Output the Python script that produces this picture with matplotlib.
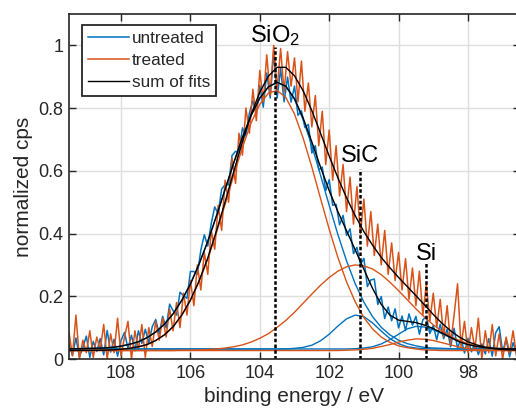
import matplotlib
matplotlib.use('Agg')
import matplotlib.pyplot as plt

# measured spectra (binding energy in eV, normalized counts)
energy = [109.5, 109.4, 109.3, 109.2, 109.1, 109.0, 108.9, 108.8, 108.7, 108.6,
          108.5, 108.4, 108.3, 108.2, 108.1, 108.0, 107.9, 107.8, 107.7, 107.6,
          107.5, 107.4, 107.3, 107.2, 107.1, 107.0, 106.9, 106.8, 106.7, 106.6,
          106.5, 106.4, 106.3, 106.2, 106.1, 106.0, 105.9, 105.8, 105.7, 105.6,
          105.5, 105.4, 105.3, 105.2, 105.1, 105.0, 104.9, 104.8, 104.7, 104.6,
          104.5, 104.4, 104.3, 104.2, 104.1, 104.0, 103.9, 103.8, 103.7, 103.6,
          103.5, 103.4, 103.3, 103.2, 103.1, 103.0, 102.9, 102.8, 102.7, 102.6,
          102.5, 102.4, 102.3, 102.2, 102.1, 102.0, 101.9, 101.8, 101.7, 101.6,
          101.5, 101.4, 101.3, 101.2, 101.1, 101.0, 100.9, 100.8, 100.7, 100.6,
          100.5, 100.4, 100.3, 100.2, 100.1, 100.0, 99.9, 99.8, 99.7, 99.6,
          99.5, 99.4, 99.3, 99.2, 99.1, 99.0, 98.9, 98.8, 98.7, 98.6,
          98.5, 98.4, 98.3, 98.2, 98.1, 98.0, 97.9, 97.8, 97.7, 97.6,
          97.5, 97.4, 97.3, 97.2, 97.1, 97.0, 96.9, 96.8, 96.7, 96.6]

untreated = [0.047, 0.012, 0.067, 0.007, 0.037, 0.073, 0.005, 0.056, 0.024, 0.065,
             0.013, 0.091, 0.022, 0.063, 0.009, 0.059, 0.085, 0.034, 0.076, 0.026,
             0.090, 0.050, 0.095, 0.051, 0.103, 0.126, 0.080, 0.136, 0.099, 0.175,
             0.154, 0.140, 0.213, 0.202, 0.193, 0.279, 0.279, 0.270, 0.347, 0.396,
             0.360, 0.432, 0.485, 0.463, 0.542, 0.556, 0.555, 0.649, 0.662, 0.660,
             0.737, 0.711, 0.784, 0.824, 0.782, 0.872, 0.803, 0.912, 0.832, 0.979,
             0.832, 0.926, 0.820, 0.899, 0.819, 0.870, 0.777, 0.791, 0.738, 0.748,
             0.657, 0.680, 0.603, 0.612, 0.537, 0.572, 0.490, 0.493, 0.428, 0.458,
             0.394, 0.415, 0.336, 0.356, 0.301, 0.321, 0.231, 0.252, 0.255, 0.174,
             0.199, 0.129, 0.166, 0.122, 0.160, 0.099, 0.137, 0.091, 0.144, 0.108,
             0.136, 0.079, 0.125, 0.136, 0.081, 0.107, 0.061, 0.111, 0.065, 0.095,
             0.039, 0.098, 0.033, 0.068, 0.019, 0.066, 0.023, 0.051, 0.014, 0.048,
             0.016, 0.065, 0.009, 0.084, 0.103, 0.023, 0.063, 0.007, 0.052, 0.017]

treated = [0.085, 0.010, 0.140, 0.000, 0.060, 0.020, 0.090, 0.005, 0.070, 0.030,
           0.110, 0.000, 0.080, 0.020, 0.130, 0.010, 0.070, 0.120, 0.000, 0.090,
           0.030, 0.110, 0.005, 0.100, 0.040, 0.120, 0.060, 0.130, 0.070, 0.160,
           0.090, 0.180, 0.100, 0.210, 0.140, 0.250, 0.170, 0.300, 0.220, 0.340,
           0.270, 0.410, 0.350, 0.490, 0.410, 0.570, 0.500, 0.640, 0.560, 0.720,
           0.650, 0.800, 0.720, 0.860, 0.760, 0.920, 0.820, 0.970, 0.840, 1.000,
           0.860, 0.990, 0.850, 0.980, 0.870, 0.960, 0.820, 0.950, 0.790, 0.880,
           0.740, 0.840, 0.680, 0.790, 0.620, 0.730, 0.570, 0.680, 0.520, 0.620,
           0.470, 0.580, 0.430, 0.550, 0.400, 0.510, 0.360, 0.470, 0.330, 0.430,
           0.300, 0.410, 0.270, 0.370, 0.250, 0.340, 0.220, 0.320, 0.190, 0.290,
           0.170, 0.280, 0.140, 0.240, 0.120, 0.210, 0.100, 0.190, 0.070, 0.170,
           0.050, 0.140, 0.240, 0.040, 0.120, 0.020, 0.100, 0.030, 0.130, 0.000,
           0.090, 0.020, 0.110, 0.010, 0.080, 0.000, 0.070, 0.020, 0.090, 0.010]

# fitted components, sampled on a coarser energy grid
fit_energy = [109.5, 108.5, 108.25, 108.0, 107.75, 107.5, 107.25, 107.0, 106.75, 106.5,
              106.25, 106.0, 105.75, 105.5, 105.25, 105.0, 104.75, 104.5, 104.25, 104.0,
              103.75, 103.5, 103.25, 103.0, 102.75, 102.5, 102.25, 102.0, 101.75, 101.5,
              101.25, 101.0, 100.75, 100.5, 100.25, 100.0, 99.75, 99.5, 99.25, 99.0,
              98.75, 98.5, 98.25, 98.0, 97.75, 97.5, 97.25, 97.0, 96.5]

untreated_sio2 = [0.032, 0.035, 0.037, 0.041, 0.047, 0.055, 0.068, 0.086, 0.111, 0.144,
                  0.187, 0.239, 0.303, 0.375, 0.456, 0.541, 0.626, 0.707, 0.777, 0.832,
                  0.868, 0.882, 0.869, 0.828, 0.763, 0.680, 0.586, 0.490, 0.397, 0.313,
                  0.240, 0.181, 0.135, 0.101, 0.077, 0.060, 0.049, 0.042, 0.037, 0.035,
                  0.034, 0.033, 0.032, 0.032, 0.032, 0.032, 0.032, 0.032, 0.032]
untreated_sic = [0.032, 0.032, 0.032, 0.032, 0.032, 0.032, 0.032, 0.032, 0.032, 0.032,
                 0.032, 0.032, 0.032, 0.032, 0.032, 0.032, 0.032, 0.032, 0.032, 0.032,
                 0.032, 0.032, 0.032, 0.034, 0.037, 0.044, 0.058, 0.079, 0.105, 0.128,
                 0.140, 0.135, 0.115, 0.089, 0.065, 0.049, 0.039, 0.035, 0.033, 0.032,
                 0.032, 0.032, 0.032, 0.032, 0.032, 0.032, 0.032, 0.032, 0.032]
untreated_si = [0.032, 0.032, 0.032, 0.032, 0.032, 0.032, 0.032, 0.032, 0.032, 0.032,
                0.032, 0.032, 0.032, 0.032, 0.032, 0.032, 0.032, 0.032, 0.032, 0.032,
                0.032, 0.032, 0.032, 0.032, 0.032, 0.032, 0.032, 0.032, 0.032, 0.032,
                0.033, 0.035, 0.039, 0.048, 0.062, 0.079, 0.096, 0.104, 0.102, 0.093,
                0.081, 0.068, 0.055, 0.046, 0.040, 0.036, 0.034, 0.033, 0.032]
untreated_sum = [0.032, 0.035, 0.037, 0.041, 0.047, 0.055, 0.068, 0.086, 0.111, 0.144,
                 0.187, 0.239, 0.303, 0.375, 0.456, 0.541, 0.626, 0.707, 0.777, 0.832,
                 0.868, 0.882, 0.870, 0.830, 0.768, 0.692, 0.612, 0.537, 0.470, 0.409,
                 0.348, 0.286, 0.225, 0.174, 0.140, 0.124, 0.120, 0.116, 0.108, 0.097,
                 0.083, 0.069, 0.055, 0.046, 0.040, 0.036, 0.034, 0.033, 0.032]

treated_sio2 = [0.027, 0.028, 0.029, 0.031, 0.034, 0.039, 0.046, 0.059, 0.077, 0.103,
                0.139, 0.187, 0.247, 0.319, 0.403, 0.493, 0.586, 0.675, 0.753, 0.812,
                0.848, 0.856, 0.834, 0.781, 0.704, 0.612, 0.512, 0.414, 0.324, 0.246,
                0.182, 0.132, 0.096, 0.070, 0.053, 0.042, 0.036, 0.032, 0.029, 0.028,
                0.027, 0.027, 0.027, 0.027, 0.027, 0.027, 0.027, 0.027, 0.027]
treated_sic = [0.027, 0.027, 0.027, 0.027, 0.027, 0.027, 0.027, 0.027, 0.027, 0.027,
               0.028, 0.028, 0.029, 0.030, 0.032, 0.035, 0.039, 0.045, 0.054, 0.066,
               0.081, 0.101, 0.123, 0.149, 0.178, 0.207, 0.235, 0.260, 0.280, 0.294,
               0.300, 0.297, 0.287, 0.269, 0.245, 0.218, 0.189, 0.160, 0.133, 0.109,
               0.089, 0.072, 0.059, 0.049, 0.041, 0.036, 0.033, 0.030, 0.028]
treated_si = [0.027, 0.027, 0.027, 0.027, 0.027, 0.027, 0.027, 0.027, 0.027, 0.027,
              0.027, 0.027, 0.027, 0.027, 0.027, 0.027, 0.027, 0.027, 0.027, 0.027,
              0.027, 0.027, 0.027, 0.027, 0.027, 0.027, 0.027, 0.027, 0.027, 0.028,
              0.029, 0.031, 0.034, 0.040, 0.046, 0.054, 0.060, 0.064, 0.063, 0.059,
              0.052, 0.045, 0.038, 0.033, 0.030, 0.029, 0.028, 0.027, 0.027]
treated_sum = [0.027, 0.028, 0.029, 0.031, 0.034, 0.039, 0.046, 0.059, 0.077, 0.103,
               0.140, 0.188, 0.249, 0.322, 0.408, 0.501, 0.598, 0.693, 0.780, 0.851,
               0.902, 0.930, 0.930, 0.903, 0.855, 0.792, 0.720, 0.647, 0.578, 0.514,
               0.457, 0.406, 0.363, 0.324, 0.291, 0.260, 0.231, 0.202, 0.172, 0.142,
               0.114, 0.090, 0.070, 0.055, 0.045, 0.038, 0.033, 0.030, 0.028]

# peak markers
peak_names = ['SiO$_2$', 'SiC', 'Si']
peak_pos = [103.56, 101.11, 99.21]
peak_top = [0.995, 0.605, 0.306]
label_y = [1.01, 0.628, 0.316]

blue = '#0072BD'
orange = '#D95319'
dark = '#262626'

plt.rcParams['font.family'] = ['Liberation Sans', 'DejaVu Sans']
plt.rcParams['mathtext.fontset'] = 'custom'
plt.rcParams['mathtext.rm'] = 'Liberation Sans'
plt.rcParams['mathtext.it'] = 'Liberation Sans:italic'

fig = plt.figure(figsize=(5.16, 4.18), dpi=100)
ax = fig.add_axes([69 / 516, 59 / 418, 451 / 516, 345 / 418])

ax.plot(energy, untreated, color=blue, lw=1.1, label='untreated')
ax.plot(energy, treated, color=orange, lw=1.1, label='treated')
for comp in (untreated_sio2, untreated_sic, untreated_si):
    ax.plot(fit_energy, comp, color=blue, lw=1.0)
for comp in (treated_sio2, treated_sic, treated_si):
    ax.plot(fit_energy, comp, color=orange, lw=1.0)
ax.plot(fit_energy, untreated_sum, color='k', lw=1.0, label='sum of fits')
ax.plot(fit_energy, treated_sum, color='k', lw=1.0)

for name, pos, top, ly in zip(peak_names, peak_pos, peak_top, label_y):
    ax.plot([pos, pos], [0, top], color='k', lw=1.8, ls=(0, (1.4, 0.9)))
    ax.text(pos, ly, name, ha='center', va='baseline', fontsize=17, color='k')

ax.set_xlim(109.5, 96.5)
ax.set_ylim(0, 1.1)
ax.set_xticks([108, 106, 104, 102, 100, 98])
ax.set_yticks([0, 0.2, 0.4, 0.6, 0.8, 1.0])
ax.set_yticklabels(['0', '0.2', '0.4', '0.6', '0.8', '1'])
ax.tick_params(direction='in', top=True, right=True, length=5, width=1,
               labelsize=13, color=dark, labelcolor=dark, pad=4)
ax.grid(True, color='#dedede', lw=1.0)
ax.set_axisbelow(True)
for s in ax.spines.values():
    s.set_linewidth(1.2)
    s.set_color(dark)

ax.set_xlabel('binding energy / eV', fontsize=15, color=dark)
ax.set_ylabel('normalized cps', fontsize=15, color=dark)

leg = ax.legend(loc='upper left', bbox_to_anchor=(0.029, 0.968), borderaxespad=0,
                fontsize=12.3, fancybox=False, framealpha=1, edgecolor=dark,
                handlelength=2.4, handletextpad=0.15, labelspacing=0.4, borderpad=0.35)
leg.get_frame().set_linewidth(1.3)
for t in leg.get_texts():
    t.set_color(dark)

fig.savefig('out.png', dpi=100)
